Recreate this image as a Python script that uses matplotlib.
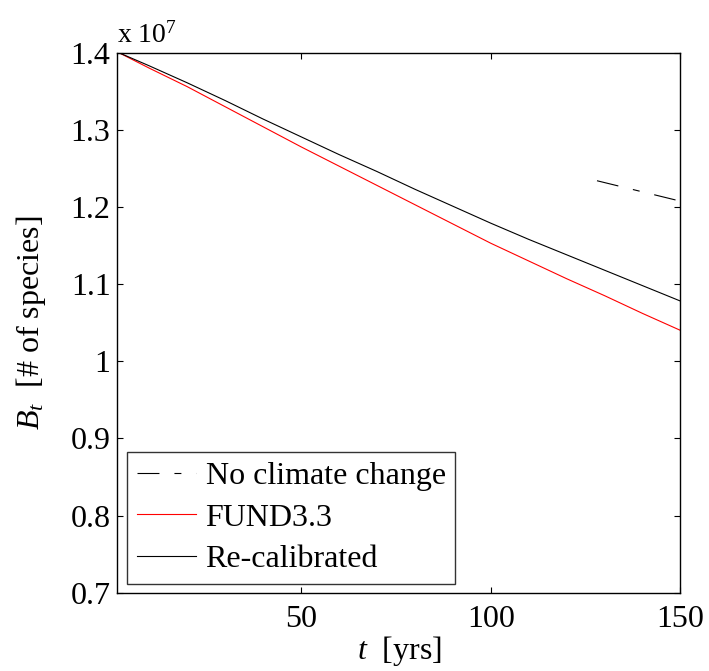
import matplotlib
matplotlib.use("Agg")
import matplotlib.pyplot as plt

plt.rcParams['font.family'] = ['Liberation Serif', 'DejaVu Serif']
plt.rcParams['mathtext.fontset'] = 'custom'
plt.rcParams['mathtext.rm'] = 'Liberation Serif'
plt.rcParams['mathtext.it'] = 'Liberation Serif:italic'
plt.rcParams['lines.scale_dashes'] = False

# Data (species counts in units of 1e7)
t = [2, 10, 20, 30, 40, 50, 60, 70, 80, 90, 100, 110, 120, 130, 140, 150]
recalibrated = [1.400, 1.383, 1.361, 1.338, 1.314, 1.291, 1.268, 1.246, 1.223,
                1.201, 1.179, 1.158, 1.138, 1.118, 1.098, 1.078]
fund33 = [1.400, 1.380, 1.356, 1.330, 1.304, 1.278, 1.253, 1.228, 1.203,
          1.178, 1.153, 1.130, 1.107, 1.085, 1.062, 1.040]
t_nocc = [128, 150]
no_climate_change = [1.234, 1.2075]

labels = ['No climate change', 'FUND3.3', 'Re-calibrated']
yticks = [0.7, 0.8, 0.9, 1.0, 1.1, 1.2, 1.3, 1.4]
yticklabels = ['0.7', '0.8', '0.9', '1', '1.1', '1.2', '1.3', '1.4']
xticks = [50, 100, 150]

fig = plt.figure(figsize=(7.09, 6.71), dpi=100)
ax = fig.add_axes([0.1657, 0.1167, 0.9598 - 0.1657, 0.9215 - 0.1167])

ax.plot(t_nocc, no_climate_change, color='black', lw=0.8,
        dashes=(15.8, 10.8, 5.0, 10.8), label=labels[0])
ax.plot(t, fund33, color='#ff0000', lw=0.8, label=labels[1])
ax.plot(t, recalibrated, color='black', lw=0.8, label=labels[2])

ax.set_xlim(1.65, 150)
ax.set_ylim(0.7, 1.4)
ax.set_xticks(xticks)
ax.set_xticklabels([str(v) for v in xticks])
ax.set_yticks(yticks)
ax.set_yticklabels(yticklabels)
ax.tick_params(direction='in', length=4.5, width=0.8, top=True, right=True,
               labelsize=23)
ax.tick_params(axis='x', pad=9)
ax.tick_params(axis='y', pad=5)
for s in ax.spines.values():
    s.set_linewidth(1.0)

ax.set_xlabel(r'$t$  [yrs]', fontsize=23, labelpad=0)
ax.set_ylabel(r'$B_{t}$  [# of species]', fontsize=23, labelpad=16)
ax.text(0.0, 1.008, r'x 10$^{7}$', transform=ax.transAxes, fontsize=20,
        ha='left', va='bottom')

leg = ax.legend(loc='lower left', bbox_to_anchor=(0.0174, 0.0161),
                borderaxespad=0, fontsize=23, frameon=True, fancybox=False,
                edgecolor='black', handlelength=1.85, handletextpad=0.3,
                borderpad=0.3, labelspacing=0.39)
leg.get_frame().set_linewidth(1.0)

fig.savefig('out.png', dpi=100)
